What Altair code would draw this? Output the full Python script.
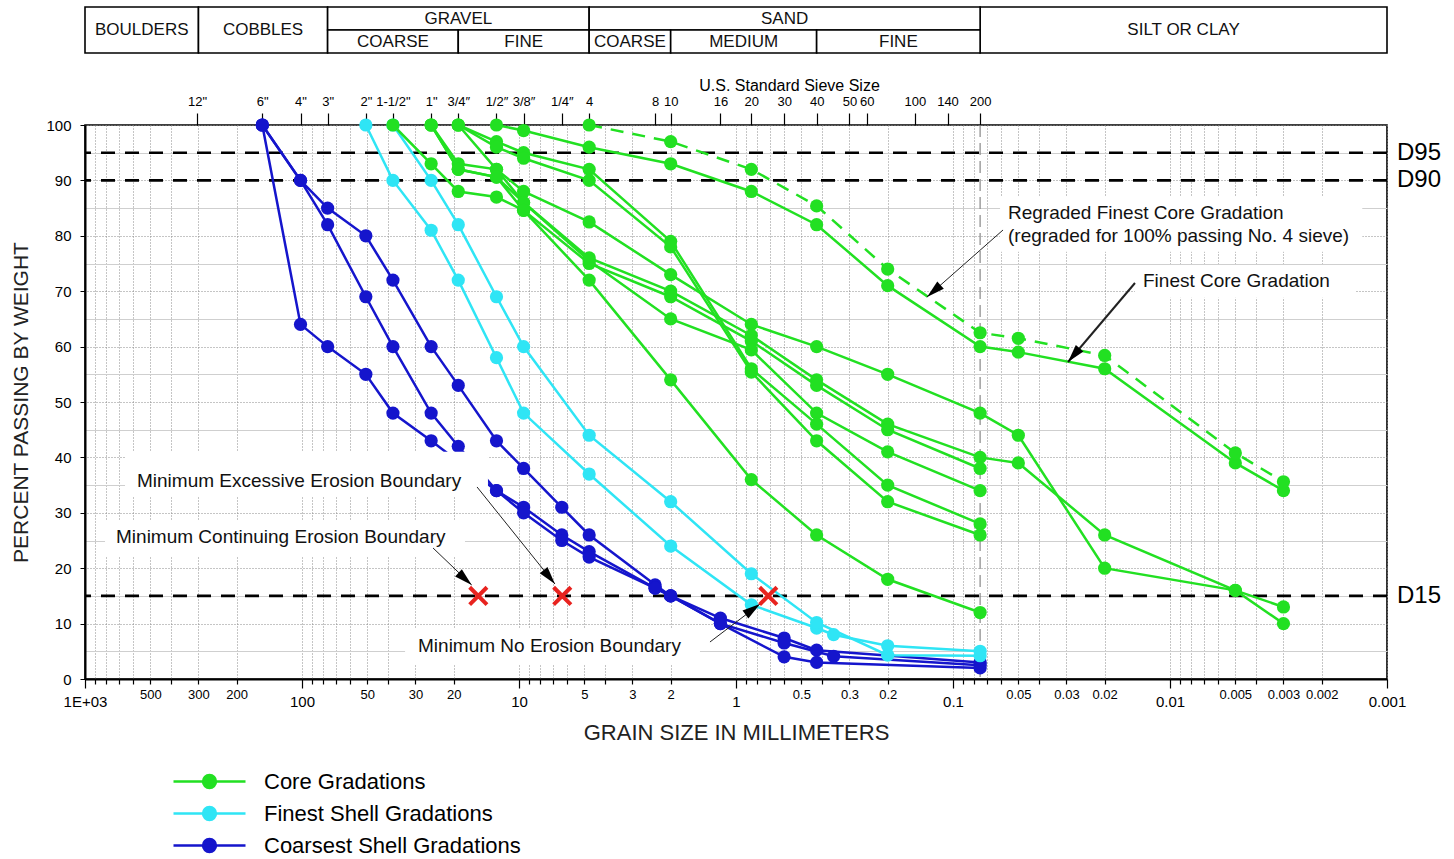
import altair as alt
import pandas as pd

FONT = "Liberation Sans, Arial, Helvetica, sans-serif"
GREEN = "#22e022"
CYAN = "#2fe5f5"
BLUE = "#1515cc"
GROUPS = ["Core Gradations", "Finest Shell Gradations", "Coarsest Shell Gradations"]
COLORS = [GREEN, CYAN, BLUE]

# ---------------- data (grain size mm, percent passing) ----------------
coarsest_shell = {
    "B1": [(152.4, 100), (101.6, 90), (76.2, 85), (50.8, 80), (38.1, 72), (25.4, 60), (19.05, 53),
           (12.7, 43), (9.525, 38), (6.35, 31), (4.75, 26), (2.36, 17), (2.0, 15), (1.18, 11),
           (0.6, 7.4), (0.425, 5.2), (0.075, 3)],
    "B2": [(152.4, 100), (101.6, 90), (76.2, 82), (50.8, 69), (38.1, 60), (25.4, 48), (19.05, 42),
           (12.7, 34), (9.525, 31), (6.35, 26), (4.75, 23), (2.36, 16.4), (2.0, 15), (1.18, 10),
           (0.6, 6.5), (0.355, 4.1), (0.075, 2.5)],
    "B3": [(152.4, 100), (101.6, 64), (76.2, 60), (50.8, 55), (38.1, 48), (25.4, 43),
           (12.7, 34), (9.525, 30), (6.35, 25), (4.75, 22), (2.36, 16.4), (2.0, 15), (1.18, 10),
           (0.6, 4), (0.425, 3), (0.075, 2)],
}
finest_shell = {
    "C1": [(50.8, 100), (38.1, 90), (25.4, 81), (19.05, 72), (12.7, 58), (9.525, 48), (4.75, 37),
           (2.0, 24), (0.85, 13.4), (0.425, 9.2), (0.355, 8), (0.2, 6), (0.075, 5)],
    "C2": [(38.1, 100), (25.4, 90), (19.05, 82), (12.7, 69), (9.525, 60), (4.75, 44), (2.0, 32),
           (0.85, 19), (0.425, 10.2), (0.2, 4.3), (0.075, 4.2)],
}
core = {
    "G2": [(25.4, 100), (19.05, 93), (12.7, 92), (9.525, 88), (4.75, 82.5), (2.0, 73), (0.85, 64),
           (0.425, 60), (0.2, 55), (0.075, 48), (0.05, 44), (0.02, 20), (0.005, 16), (0.003, 13)],
    "G3": [(25.4, 100), (19.05, 92), (12.7, 90.6), (9.525, 86), (4.75, 76), (2.0, 70), (0.85, 62),
           (0.425, 54), (0.2, 46), (0.075, 40), (0.05, 39), (0.02, 26), (0.005, 16), (0.003, 10)],
    "G4": [(38.1, 100), (25.4, 93), (19.05, 88), (12.7, 87), (9.525, 84.6), (4.75, 75), (2.0, 69),
           (0.85, 61), (0.425, 53), (0.2, 45), (0.075, 38)],
    "G5": [(19.05, 100), (12.7, 92), (9.525, 86), (4.75, 75.5), (2.0, 65), (0.85, 59.4),
           (0.425, 48), (0.2, 41), (0.075, 34)],
    "G6": [(19.05, 100), (12.7, 97), (9.525, 95), (4.75, 92), (2.0, 79), (0.85, 56), (0.425, 46),
           (0.2, 35), (0.075, 28)],
    "G7": [(19.05, 100), (12.7, 96), (9.525, 94), (4.75, 90), (2.0, 78), (0.85, 55.4), (0.425, 43),
           (0.2, 32), (0.075, 26)],
    "G8": [(25.4, 100), (19.05, 92), (12.7, 90.6), (9.525, 84.6), (4.75, 72), (2.0, 54), (0.85, 36),
           (0.425, 26), (0.2, 18), (0.075, 12)],
    "G1": [(12.7, 100), (9.525, 99), (4.75, 96), (2.0, 93), (0.85, 88), (0.425, 82), (0.2, 71),
           (0.075, 60), (0.05, 59), (0.02, 56), (0.005, 39), (0.003, 34)],
}
regraded_core = [(4.75, 100), (2.0, 97), (0.85, 92), (0.425, 85.4), (0.2, 74), (0.075, 62.5),
                 (0.05, 61.5), (0.02, 58.4), (0.005, 40.8), (0.003, 35.6)]

# top sieve axis
sieve_sizes = [304.8, 152.4, 101.6, 76.2, 50.8, 38.1, 25.4, 19.05, 12.7, 9.525, 6.35, 4.75, 2.36,
               2.0, 1.18, 0.85, 0.6, 0.425, 0.3, 0.25, 0.15, 0.106, 0.075]
sieve_labels = ['12"', '6"', '4"', '3"', '2"', '1-1/2"', '1"', '3/4\u2033', '1/2\u2033', '3/8\u2033',
                '1/4\u2033', '4', '8', '10', '16', '20', '30', '40', '50', '60', '100', '140', '200']

# classification table
full_cells = pd.DataFrame({"label": ["BOULDERS", "COBBLES", "SILT OR CLAY"],
                           "x1": [1000, 300, 0.075], "x2": [300, 76.2, 0.001]})
top_cells = pd.DataFrame({"label": ["GRAVEL", "SAND"], "x1": [76.2, 4.75], "x2": [4.75, 0.075]})
sub_cells = pd.DataFrame({"label": ["COARSE", "FINE", "COARSE", "MEDIUM", "FINE"],
                          "x1": [76.2, 19.05, 4.75, 2.0, 0.425],
                          "x2": [19.05, 4.75, 2.0, 0.425, 0.075]})

# criteria lines
d_pct = [95, 90, 15]
d_lab = ["D95", "D90", "D15"]

# boundary markers
marker_mm = [15.4, 6.32, 0.71]
marker_pct = [15, 15, 15]

# annotations
note_text = ["Regraded Finest Core Gradation", "(regraded for 100% passing No. 4 sieve)",
             "Finest Core Gradation", "Minimum Excessive Erosion Boundary",
             "Minimum Continuing Erosion Boundary", "Minimum No Erosion Boundary"]
note_x = [0.0558, 0.0558, 0.01332, 576, 719.6, 29.2]
note_y = [84.1, 79.96, 71.84, 35.74, 25.63, 5.96]

box_x1 = [654, 808.5, 33.5, 0.0607, 0.0145]
box_x2 = [13.9, 17.74, 1.466, 0.0013, 0.0014]
box_y1 = [41.0, 28.7, 9.2, 87.0, 74.7]
box_y2 = [32.85, 22.2, 2.7, 77.1, 68.8]

arrow_name = ["regraded", "finest", "continuing", "excessive", "none"]
arrow_x1 = [0.0588, 0.0145, 24.9, 15.61, 1.318]
arrow_y1 = [81.05, 71.48, 23.65, 34.66, 6.68]
arrow_x2 = [0.1318, 0.02951, 16.52, 6.83, 0.775]
arrow_y2 = [68.95, 57.22, 16.97, 17.15, 13.54]
head_x = [0.1226, 0.02776, 17.72, 7.25, 0.8375]
head_y = [70.02, 58.47, 18.07, 18.41, 12.58]
head_angle = [228.6, 220.3, 132.7, 140.9, 53.9]

# ---------------- tables ----------------
rows = []
for grp, dct in [(GROUPS[2], coarsest_shell), (GROUPS[1], finest_shell), (GROUPS[0], core)]:
    for name, pts in dct.items():
        for mm, p in pts:
            rows.append({"series": name, "group": grp, "mm": mm, "pct": p})
df = pd.DataFrame(rows)
df_reg = pd.DataFrame([{"series": "REG", "group": GROUPS[0], "mm": mm, "pct": p} for mm, p in regraded_core])
df_pts = pd.concat([df, df_reg], ignore_index=True)

x_ticks = [round(m * 10 ** e, 6) for e in range(-3, 3) for m in range(1, 10)] + [1000]

xscale = alt.Scale(type="log", domain=[0.001, 1000], reverse=True, nice=False)
yscale = alt.Scale(domain=[0, 100], nice=False)
cscale = alt.Scale(domain=GROUPS, range=COLORS)

IS_DEC = "abs(log(datum.value)/LN10 - round(log(datum.value)/LN10)) < 0.001"
LEAD = "round(datum.value / pow(10, floor(log(datum.value)/LN10 + 0.001)))"
bottom_axis = alt.Axis(
    orient="bottom", values=x_ticks, format="~g",
    labelExpr=f"datum.value > 999 ? '1E+03' : (({IS_DEC}) || indexof([2,3,5], {LEAD}) >= 0 ? datum.label : '')",
    labelOverlap=False, labelFlush=False,
    tickSize={"condition": {"test": IS_DEC, "value": 9}, "value": 5},
    labelFontSize={"condition": {"test": IS_DEC, "value": 15}, "value": 13},
    labelPadding={"condition": {"test": IS_DEC, "value": 6}, "value": 4},
    tickColor="black", tickWidth=1.2, domainColor="black", domainWidth=2,
    grid=True, gridColor="#8a8a8a", gridDash=[1, 2], gridWidth=1,
    labelColor="black", labelFont=FONT,
    title="GRAIN SIZE IN MILLIMETERS", titleFontSize=22, titleFontWeight="normal",
    titleColor="#222", titlePadding=13, titleFont=FONT,
)
COND10 = "datum.value % 10 == 0"
y_axis = alt.Axis(
    orient="left",
    values=list(range(0, 101, 5)), labelExpr=f"{COND10} ? datum.label : ''",
    tickSize={"condition": {"test": COND10, "value": 5}, "value": 0},
    grid=True,
    gridColor={"condition": {"test": COND10, "value": "#8a8a8a"}, "value": "#cfcfcf"},
    gridDash={"condition": {"test": COND10, "value": [1, 2]}, "value": []},
    gridWidth=1, domainColor="black", domainWidth=2, tickColor="black",
    labelFontSize=15, labelPadding=9, labelColor="black", labelFont=FONT,
    title="PERCENT PASSING BY WEIGHT", titleFontSize=21, titleFontWeight="normal",
    titleColor="#222", titlePadding=14, titleFont=FONT,
)
sieve_expr = "".join(f"abs(datum.value - {s}) < 1e-6 ? '{l}' : " for s, l in zip(sieve_sizes, sieve_labels)) + "''"
top_axis = alt.Axis(
    orient="top", values=sieve_sizes, labelExpr=sieve_expr, labelOverlap=False, labelFlush=False,
    tickSize=12, tickColor="black", tickWidth=1.2, labelFontSize=13, labelPadding=5,
    labelColor="black", labelFont=FONT, domain=False, grid=False,
    title="U.S. Standard Sieve Size", titleFontSize=16, titleFontWeight="normal",
    titleColor="black", titlePadding=2, titleX=704, titleFont=FONT,
)
LEG_PATH = "M-2.4,0L2.4,0M0.43,0A0.43,0.43,0,1,1,-0.43,0A0.43,0.43,0,1,1,0.43,0Z"
leg = alt.Legend(title=None, orient="none", legendX=108, legendY=640, symbolType=LEG_PATH,
                 symbolSize=900, symbolStrokeWidth=2.5, labelFontSize=22, labelFont=FONT,
                 labelOffset=38, rowPadding=4, padding=0, labelColor="black", labelLimit=0,
                 symbolOpacity=1)

X = lambda f="mm": alt.X(f"{f}:Q", scale=xscale, axis=None)
Y = lambda f="pct": alt.Y(f"{f}:Q", scale=yscale, axis=None)

vline200 = alt.Chart(pd.DataFrame({"mm": [0.075]})).mark_rule(
    strokeDash=[12, 6], color="#888", strokeWidth=1.2).encode(x=X())

dlines = alt.Chart(pd.DataFrame({"pct": d_pct, "lab": d_lab})).mark_rule(
    strokeDash=[14, 10], strokeWidth=2.6, color="black").encode(y=Y())
dlabels = alt.Chart(pd.DataFrame({"pct": d_pct, "lab": d_lab})).mark_text(
    align="left", baseline="middle", fontSize=24, font=FONT, color="black").encode(
    x=alt.value(1312), y=Y(), text="lab:N")

reg_line = alt.Chart(df_reg).mark_line(strokeWidth=2.5, strokeDash=[13, 9], color=GREEN).encode(
    x=X(), y=Y())

lines = alt.Chart(df).mark_line(strokeWidth=2.5).encode(
    x=alt.X("mm:Q", scale=xscale, axis=bottom_axis),
    y=alt.Y("pct:Q", scale=yscale, axis=y_axis),
    stroke=alt.Stroke("group:N", scale=cscale, legend=leg),
    detail="series:N",
)
points = alt.Chart(df_pts).mark_point(filled=True, size=175, opacity=1).encode(
    x=X(), y=Y(), fill=alt.Fill("group:N", scale=cscale, legend=leg))

boxes = alt.Chart(pd.DataFrame({"x1": box_x1, "x2": box_x2, "y1": box_y1, "y2": box_y2})).mark_rect(
    fill="white").encode(x=X("x1"), x2="x2:Q", y=Y("y1"), y2="y2:Q")

arrows = alt.Chart(pd.DataFrame({"name": arrow_name, "x1": arrow_x1, "y1": arrow_y1,
                                 "x2": arrow_x2, "y2": arrow_y2})).mark_rule(color="#222").encode(
    x=X("x1"), x2="x2:Q", y=Y("y1"), y2="y2:Q",
    strokeWidth=alt.condition("datum.name == 'finest'", alt.value(2), alt.value(1)))
heads = alt.Chart(pd.DataFrame({"mm": head_x, "pct": head_y, "ang": head_angle})).mark_point(
    shape="M0,-1L0.55,1L-0.55,1Z", size=324, filled=True, color="black", opacity=1).encode(
    x=X(), y=Y(), angle=alt.Angle("ang:Q", scale=None))

redx = alt.Chart(pd.DataFrame({"mm": marker_mm, "pct": marker_pct})).mark_point(
    shape="M-1,-1L1,1M1,-1L-1,1", size=300, strokeWidth=4, color="#e8231f", filled=False,
    opacity=1).encode(x=X(), y=Y())

notes = alt.Chart(pd.DataFrame({"mm": note_x, "pct": note_y, "t": note_text})).mark_text(
    align="left", baseline="middle", fontSize=19, font=FONT, color="#111").encode(
    x=X(), y=Y(), text="t:N")

def cells(data, y1, y2, ytxt):
    r = alt.Chart(data).mark_rect(fill="white", stroke="black", strokeWidth=1.6).encode(
        x=X("x1"), x2="x2:Q", y=alt.value(y1), y2=alt.value(y2))
    t = alt.Chart(data).transform_calculate(cx="sqrt(datum.x1*datum.x2)").mark_text(
        fontSize=17, font=FONT, color="#111", baseline="middle").encode(
        x=X("cx"), y=alt.value(ytxt), text="label:N")
    return [r, t]

table = cells(full_cells, -118, -72, -95) + cells(top_cells, -118, -95, -106) + cells(sub_cells, -95, -72, -83)

sieve_layer = alt.Chart(pd.DataFrame({"mm": sieve_sizes})).mark_point(opacity=0).encode(
    x=alt.X("mm:Q", scale=xscale, axis=top_axis), y=alt.value(0))

chart = alt.layer(
    vline200, dlines, reg_line, lines, points, boxes, arrows, heads, redx, notes, dlabels,
    *table, sieve_layer
).resolve_axis(x="independent", y="independent").properties(
    width=1302, height=554,
    autosize=alt.AutoSizeParams(type="none"),
    padding={"left": 85, "top": 125, "right": 67, "bottom": 180},
).configure(font=FONT).configure_view(stroke="black", strokeWidth=1.6)

chart.save("out.html", embed_options={"renderer": "svg", "actions": False})
